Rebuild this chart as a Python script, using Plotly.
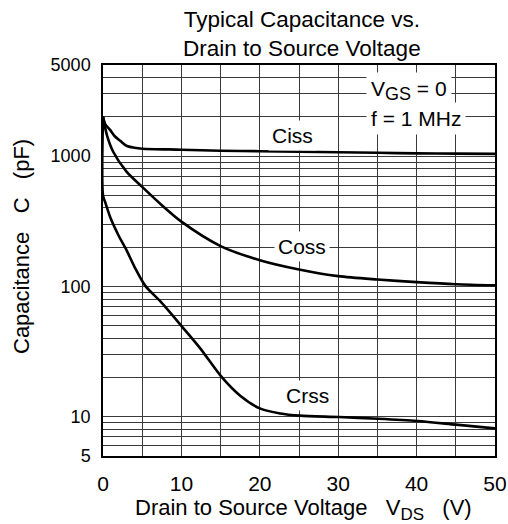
import plotly.graph_objects as go

# Data
ciss_v = [0, 0.3, 0.9, 1.5, 2.2, 3, 4, 5, 10, 15, 20, 25, 30, 35, 40, 45, 50]
ciss_c = [2000, 1750, 1590, 1420, 1310, 1200, 1160, 1140, 1120, 1100, 1090, 1080, 1070, 1060, 1050, 1045, 1040]

coss_v = [0, 0.5, 1.3, 3, 5, 7.5, 10, 15, 20, 25, 30, 35, 40, 45, 50]
coss_c = [2000, 1450, 1080, 760, 580, 420, 314, 204, 159, 135, 120, 113, 108, 104, 102]

crss_v = [0, 0, 0.3, 1, 2, 3, 4, 5.4, 7.3, 10.1, 12.4, 15.1, 17.5, 20, 22.6, 25.1, 30.1, 35.1, 40.1, 45, 50]
crss_c = [2000, 500, 440, 330, 245, 190, 142, 101, 77, 49, 33.5, 20.3, 14.5, 11.6, 10.6, 10.2, 9.95, 9.65, 9.27, 8.7, 8.15]

x_ticks = [0, 10, 20, 30, 40, 50]
x_minor = [5, 15, 25, 35, 45]

y_ticks = [5, 10, 100, 1000, 5000]
y_minor = [6, 7, 8, 9, 20, 30, 40, 50, 60, 70, 80, 90,
           200, 300, 400, 500, 600, 700, 800, 900, 2000, 3000, 4000]

FONT = "Liberation Sans, Arial, sans-serif"
GRID = "#3a3a3a"

fig = go.Figure()
for v, c in [(ciss_v, ciss_c), (coss_v, coss_c), (crss_v, crss_c)]:
    fig.add_trace(go.Scatter(x=v, y=c, mode="lines",
                             line=dict(color="black", width=2.6, shape="spline", smoothing=0.8),
                             showlegend=False, hoverinfo="skip", cliponaxis=False))

W, H = 508, 524
L, R, T, B = 103, 13, 65, 68

fig.update_layout(
    width=W, height=H,
    margin=dict(l=L, r=R, t=T, b=B, pad=0),
    paper_bgcolor="white", plot_bgcolor="white",
    font=dict(family=FONT, size=18, color="black"),
    showlegend=False,
)
fig.update_xaxes(range=[0, 50], tickmode="array", tickvals=x_ticks,
                 ticktext=[str(v) for v in x_ticks],
                 showgrid=True, gridcolor=GRID, gridwidth=1,
                 minor=dict(tickmode="array", tickvals=x_minor, showgrid=True,
                            gridcolor=GRID, gridwidth=1, ticks=""),
                 showline=True, linecolor="black", linewidth=1.5, mirror=True,
                 ticks="", ticklabelstandoff=8, zeroline=False, automargin=False,
                 tickfont=dict(size=21))
fig.update_yaxes(type="log", range=[0.69897, 3.69897], tickmode="array",
                 tickvals=y_ticks, ticktext=[str(v) for v in y_ticks],
                 showgrid=True, gridcolor=GRID, gridwidth=1,
                 minor=dict(tickmode="array", tickvals=y_minor, showgrid=True,
                            gridcolor=GRID, gridwidth=1, ticks=""),
                 showline=True, linecolor="black", linewidth=1.5, mirror=True,
                 ticks="", ticklabelstandoff=7, zeroline=False, automargin=False,
                 tickfont=dict(size=18))

pw = W - L - R
ph = H - T - B
def px(xpage):
    return (xpage - L) / pw
def py(ypage):
    return 1 - (ypage - T) / ph

# Title
fig.add_annotation(xref="paper", yref="paper", x=px(302), y=py(34), yanchor="middle",
                   text="Typical Capacitance vs.<br>Drain to Source Voltage",
                   showarrow=False, font=dict(size=22.5), align="center")
# Axis titles
fig.add_annotation(xref="paper", yref="paper", x=px(303), y=py(509), yanchor="middle",
                   text="Drain to Source Voltage   V<sub><span style='font-size:17px'>DS</span></sub>   (V)",
                   showarrow=False, font=dict(size=22))
fig.add_annotation(xref="paper", yref="paper", x=px(21), y=py(247), xanchor="center",
                   yanchor="middle", text="Capacitance   C   (pF)", textangle=-90,
                   showarrow=False, font=dict(size=22))

# Curve labels with white background
for label, xp, yp in [("Ciss", 292, 135), ("Coss", 302, 246), ("Crss", 307, 395)]:
    fig.add_annotation(xref="paper", yref="paper", x=px(xp), y=py(yp), text=label,
                       xanchor="center", yanchor="middle",
                       showarrow=False, bgcolor="white", font=dict(size=21), borderpad=3)

fig.add_annotation(xref="paper", yref="paper", x=px(366), y=py(90), xanchor="left",
                   yanchor="middle",
                   text="V<sub><span style='font-size:18px'>GS</span></sub> = 0", align="left",
                   showarrow=False, bgcolor="white", font=dict(size=21), borderpad=4)
fig.add_annotation(xref="paper", yref="paper", x=px(366), y=py(118), xanchor="left",
                   yanchor="middle", text="f = 1 MHz", align="left",
                   showarrow=False, bgcolor="white", font=dict(size=21), borderpad=4)

fig.write_html("out.html", config={"displayModeBar": False},
               post_script="document.body.style.margin='0';document.body.style.overflow='hidden';")
